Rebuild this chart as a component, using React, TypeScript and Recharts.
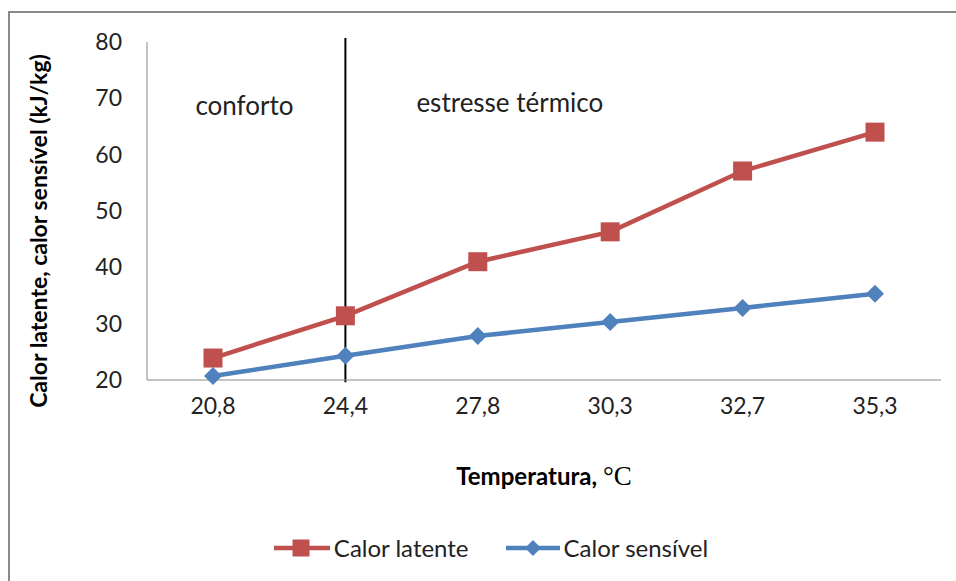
import React from 'react';
import { LineChart, Line, XAxis, YAxis, Legend, ReferenceLine } from 'recharts';

const temperaturas = ['20,8', '24,4', '27,8', '30,3', '32,7', '35,3'];
const calorLatente = [23.9, 31.4, 41.0, 46.3, 57.1, 64.0];
const calorSensivel = [20.7, 24.3, 27.8, 30.3, 32.8, 35.3];
const yTicks = [20, 30, 40, 50, 60, 70, 80];

const RED = '#C0504D';
const BLUE = '#4F81BD';
const FONT = 'Lato, "Open Sans", sans-serif';

const data = temperaturas.map((t, i) => ({
  t,
  latente: calorLatente[i],
  sensivel: calorSensivel[i],
}));

const SquareDot = (props: any) => {
  const { cx, cy } = props;
  if (cx == null || cy == null) return null;
  return <rect x={cx - 9.5} y={cy - 9.5} width={19} height={19} fill={RED} />;
};

const DiamondDot = (props: any) => {
  const { cx, cy } = props;
  if (cx == null || cy == null) return null;
  const r = 9;
  return (
    <polygon
      points={`${cx},${cy - r} ${cx + r},${cy} ${cx},${cy + r} ${cx - r},${cy}`}
      fill={BLUE}
    />
  );
};

const LegendContent = () => (
  <div style={{ display: 'flex', justifyContent: 'center', alignItems: 'center', fontFamily: FONT, fontSize: 24, color: '#222', paddingLeft: 40, paddingTop: 12 }}>
    <svg width={58} height={20}>
      <line x1={1} y1={10} x2={57} y2={10} stroke={RED} strokeWidth={4.5} />
      <rect x={19.5} y={1.5} width={17} height={17} fill={RED} />
    </svg>
    <span style={{ marginLeft: 3, marginRight: 36 }}>Calor latente</span>
    <svg width={56} height={20}>
      <line x1={1} y1={10} x2={55} y2={10} stroke={BLUE} strokeWidth={4.5} />
      <polygon points="28,2 36,10 28,18 20,10" fill={BLUE} />
    </svg>
    <span style={{ marginLeft: 3 }}>Calor sensível</span>
  </div>
);

const XLabel = (props: any) => {
  const { viewBox } = props;
  const cx = viewBox.x + viewBox.width / 2;
  return (
    <text x={cx} y={viewBox.y + 105} textAnchor="middle" fontFamily={FONT} fontSize={24} fontWeight={700} fill="#000">
      Temperatura,{' '}
      <tspan fontFamily='"Liberation Serif", serif' fontWeight={400} fontSize={27}>°C</tspan>
    </text>
  );
};

const YLabel = () => (
  <text
    x={47}
    y={231}
    transform="rotate(-90 47 231)"
    textAnchor="middle"
    fontFamily={FONT}
    fontSize={23}
    fontWeight={700}
    fill="#000"
  >
    Calor latente, calor sensível (kJ/kg)
  </text>
);

const ZoneLabels = (props: any) => {
  const { viewBox } = props;
  const x = viewBox.x;
  return (
    <g fontFamily={FONT} fontSize={26} fill="#222">
      <text x={x - 150} y={115}>conforto</text>
      <text x={x + 71} y={112}>estresse térmico</text>
    </g>
  );
};

export default function App() {
  return (
    <div style={{ position: 'absolute', left: 0, top: 0, width: 956, height: 581, overflow: 'hidden', background: '#fff' }}>
      <div style={{ position: 'absolute', left: 8, top: 11, width: 1000, height: 700, border: '2px solid #8a8a8a' }} />
      <LineChart
        width={956}
        height={581}
        data={data}
        margin={{ top: 42, right: 15, left: 0, bottom: 0 }}
        style={{ position: 'absolute', left: 0, top: 0 }}
      >
        <XAxis
          dataKey="t"
          stroke="#8a8a8a"
          tickLine={false}
          tickSize={0}
          tickMargin={18}
          height={141}
          padding={{ left: 66, right: 66 }}
          tick={{ fill: '#222', fontSize: 23, fontFamily: FONT }}
          label={<XLabel />}
        />
        <YAxis
          domain={[20, 80]}
          ticks={yTicks}
          width={147}
          stroke="#8a8a8a"
          tickLine={false}
          tickSize={0}
          tickMargin={25}
          tick={{ fill: '#222', fontSize: 23, fontFamily: FONT }}
          label={<YLabel />}
        />
        <ReferenceLine
          segment={[{ x: '24,4', y: 80.7 }, { x: '24,4', y: 19.6 }]}
          ifOverflow="visible"
          stroke="#000"
          strokeWidth={2}
          label={<ZoneLabels />}
        />
        <Line
          dataKey="latente"
          stroke={RED}
          strokeWidth={4.5}
          dot={<SquareDot />}
          activeDot={false}
          isAnimationActive={false}
        />
        <Line
          dataKey="sensivel"
          stroke={BLUE}
          strokeWidth={4.5}
          dot={<DiamondDot />}
          activeDot={false}
          isAnimationActive={false}
        />
        <Legend verticalAlign="bottom" height={60} content={<LegendContent />} />
      </LineChart>
    </div>
  );
}
